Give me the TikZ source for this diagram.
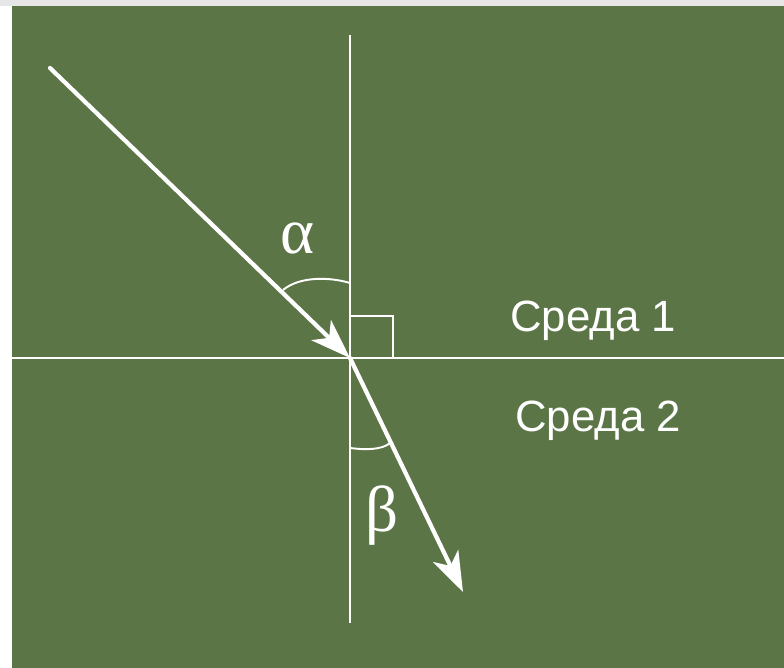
\documentclass[tikz,border=0pt]{standalone}
\usepackage{fontspec}
\setmainfont{Liberation Sans}
\newfontfamily\greekfont{Liberation Serif}
\usetikzlibrary{arrows.meta}
\definecolor{board}  {HTML}{5C7547}
\definecolor{frame}  {HTML}{E6E6E6}
\tikzset{
  guide/.style ={draw=white, line width=1.1pt},
  ray/.style   ={draw=white, line width=2.4pt, line cap=round,
                 -{Stealth[length=0.8cm, width=0.56cm, inset=0.22cm]}},
  anglemark/.style={draw=white, line width=1.1pt},
  medium/.style={text=white, inner sep=0pt, anchor=base west,
                 font=\fontsize{24.9}{29}\selectfont},
  anglelbl/.style={text=white, inner sep=0pt,
                 font=\greekfont\fontsize{37}{42}\selectfont}
}

\begin{document}
\begin{tikzpicture}[x=0.02cm, y=0.02cm]
\useasboundingbox (0,0) rectangle (784,668);
\fill[frame] (0,662) rectangle (784,668);
\fill[board] (12,0) rectangle (784,662);

\coordinate (O) at (350,310);
\coordinate (top) at (350,633);
\coordinate (bottom) at (350,45);
\coordinate (left) at (12,310);
\coordinate (right) at (784,310);
\coordinate (src) at (50,600);
\coordinate (dst) at (463,76);

% normal and boundary
\draw[guide] (top) -- (bottom);
\draw[guide] (left) -- (right);
\draw[anglemark] (O) rectangle (393,352);

% incident and refracted rays
\draw[ray] (src) -- (O);
\draw[ray] (O) -- (dst);

% angle marks
\draw[anglemark] (283,378) .. controls (300,392) and (330,391) .. (350,385);
\draw[anglemark] (350,220) .. controls (365,218) and (382,218) .. (390,225);
\node[anglelbl] (alpha) at (298,430) {α};
\node[anglelbl] (beta) at (382,152) {β};

\node[medium] (m1) at (510,336) {Среда 1};
\node[medium] (m2) at (515,236) {Среда 2};
\end{tikzpicture}
\end{document}
